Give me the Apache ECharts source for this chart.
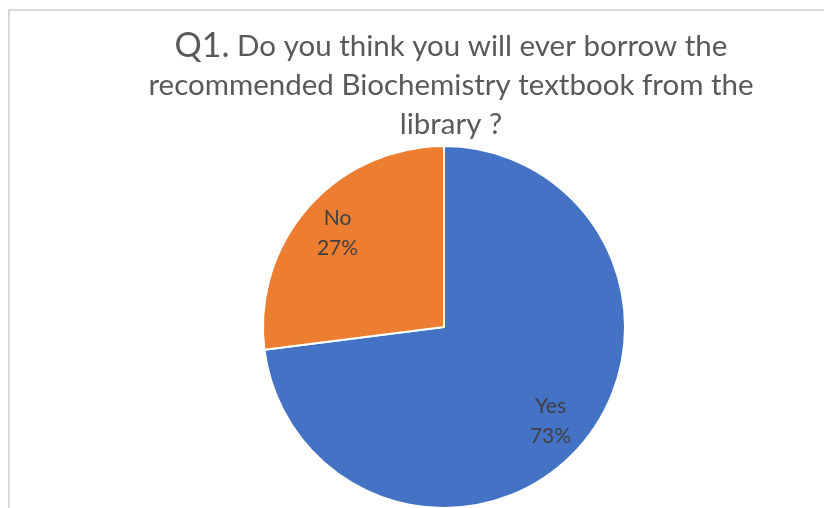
<!DOCTYPE html>
<html><head><meta charset="utf-8">
<script src="https://cdn.jsdelivr.net/npm/echarts@6/dist/echarts.min.js"></script>
<style>html,body{margin:0;padding:0;background:#fff}#c{width:824px;height:508px}</style>
</head><body><div id="c"></div>
<script>
const categories = ['Yes', 'No'];
const values = [73, 27];
const colors = ['#4472C4', '#ED7D31'];
const titleHead = 'Q1.';
const titleLines = [' Do you think you will ever borrow the', 'recommended Biochemistry textbook from the', 'library ?'];

const data = categories.map((c, i) => ({ name: c, value: values[i], itemStyle: { color: colors[i] } }));
const chart = echarts.init(document.getElementById('c'));
const FONT = 'Lato, "Open Sans", sans-serif';
chart.setOption({
  animation: false,
  graphic: [{ type: 'rect', shape: { x: 9, y: 10, width: 1000, height: 1000 }, style: { fill: 'none', stroke: '#d9d9d9', lineWidth: 2 }, silent: true }],
  title: {
    text: '{h|' + titleHead + '}{t|' + titleLines[0] + '}\n{t|' + titleLines[1] + '}\n{t|' + titleLines[2] + '}',
    left: 446, top: 22, textAlign: 'center',
    textStyle: {
      fontFamily: FONT, fontWeight: 'normal', lineHeight: 39,
      rich: {
        h: { fontSize: 34, color: '#595959', fontFamily: FONT, fontWeight: 'normal', lineHeight: 39 },
        t: { fontSize: 29.5, color: '#595959', fontFamily: FONT, fontWeight: 'normal', lineHeight: 39 }
      }
    }
  },
  series: [{
    type: 'pie', center: [444, 327], radius: [0, 181], startAngle: 90, clockwise: true,
    data: data, label: { show: false }, labelLine: { show: false },
    itemStyle: { borderColor: '#fff', borderWidth: 2 }, emphasis: { disabled: true }, silent: true
  }, {
    type: 'pie', center: [444, 327], radius: [97, 181], startAngle: 90, clockwise: true,
    data: data.map(d => ({ name: d.name, value: d.value })),
    itemStyle: { color: 'transparent', borderWidth: 0 },
    label: { show: true, position: 'inside', formatter: '{b}\n{d}%', color: '#404040', fontSize: 21, lineHeight: 30, fontFamily: FONT },
    labelLine: { show: false }, emphasis: { disabled: true }, silent: true
  }]
});
</script></body></html>
